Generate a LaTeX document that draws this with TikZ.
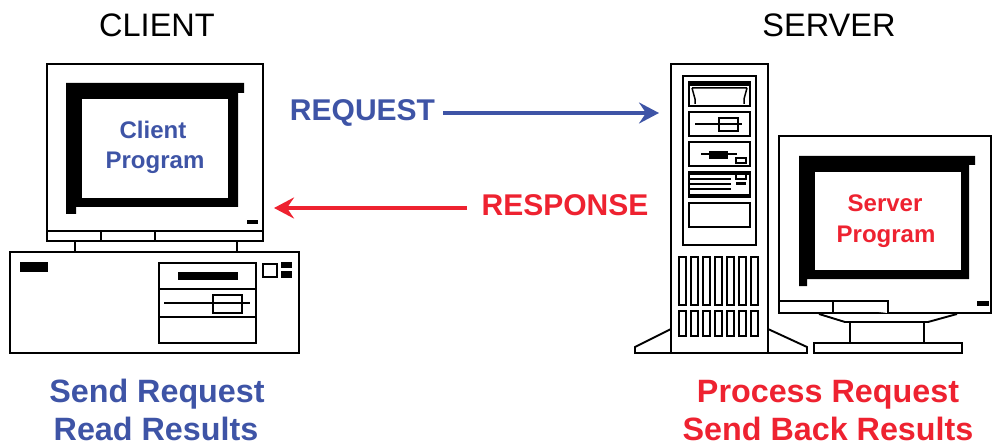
\documentclass[tikz,border=0pt]{standalone}
\usepackage{fontspec}
\setmainfont{Liberation Sans}
\usetikzlibrary{arrows.meta}
\definecolor{reqblue}{RGB}{62,84,166}
\definecolor{resred}{RGB}{238,34,48}
\tikzset{
  x=1pt,y=-1pt,
  part/.style={draw=black,line width=1.9pt,fill=white,line join=miter},
  thin part/.style={draw=black,line width=1.5pt},
  blk/.style={fill=black,draw=none},
  label/.style={font=\fontsize{#1}{#1}\selectfont\bfseries,inner sep=0pt,anchor=base},
  title/.style={font=\fontsize{32.5}{32.5}\selectfont,inner sep=0pt,anchor=base},
  flow/.style={line width=3.4pt,-{Stealth[length=20pt,width=21pt,inset=7pt]}}
}
\newcommand{\rbox}[4]{\draw[part] (#1,#2) rectangle (#3,#4);}
\newcommand{\bbox}[4]{\fill[blk] (#1,#2) rectangle (#3,#4);}
\begin{document}
\begin{tikzpicture}
\useasboundingbox (0,0) rectangle (992,446);
% ---------- client
\rbox{47}{64}{263}{241}
\draw[part] (47,231) -- (263,231) (101,231) -- (101,241) (155,231) -- (155,241);
\draw[part] (75,241) -- (75,252) (237,241) -- (237,252);
\fill[blk] (66,83) -- (244,83) -- (244,93) -- (238,93) -- (238,207) -- (76,207) -- (76,214) -- (66,214) -- cycle;
\fill[white] (82,99) rectangle (228,198);
\bbox{247}{220}{258}{224}
\rbox{10}{252}{299}{353}
\bbox{20}{262}{48}{272}
\rbox{159}{263}{256}{343}
\draw[part] (159,289) -- (256,289) (159,317) -- (256,317);
\bbox{178}{272}{238}{280}
\draw[part] (164,303) -- (250,303);
\draw[part,fill=none] (213,295) rectangle (242,313);
\rbox{263}{264}{277}{277}
\bbox{281}{262}{292}{268}
\bbox{281}{271}{292}{278}
% ---------- server tower
\draw[part] (671,329) -- (635,347) -- (635,353) -- (671,353);
\draw[part] (768,329) -- (807,347) -- (807,353) -- (768,353);
\rbox{671}{64}{768}{353}
\rbox{683}{76}{756}{245}
\rbox{689}{82}{750}{106}
\bbox{689}{82}{750}{86}
\draw[thin part] (692,88) -- (695,99) -- (695,104) (747,88) -- (744,99) -- (744,104) (692,88) -- (747,88);
\rbox{689}{112}{750}{136}
\draw[part] (695,124) -- (742,124);
\draw[part,fill=none] (719,118) rectangle (738,131);
\rbox{689}{142}{750}{166}
\draw[part] (701,154) -- (737,154);
\bbox{709}{151}{728}{159}
\draw[thin part] (736,158) rectangle (746,163);
\rbox{689}{172}{750}{197}
\bbox{689}{172}{750}{175}
\bbox{689}{194}{750}{197}
\draw[thin part] (690,179) -- (731,179) (690,184) -- (731,184) (690,189) -- (731,189);
\draw[thin part] (736,174) rectangle (746,179);
\bbox{736}{182}{746}{185}
\rbox{689}{203}{750}{227}
\foreach \vx in {679,691,703,715,727,739,751}{
  \draw[part] (\vx,257) rectangle (\vx+7,305);
  \draw[part] (\vx,311) rectangle (\vx+7,336);
}
% ---------- server monitor
\draw[part] (991,313) -- (779,313) -- (779,136) -- (991,136) -- cycle;
\draw[part] (779,301) -- (888,301) -- (888,313) (833,301) -- (833,313);
\fill[blk] (799,156) -- (975,156) -- (975,165) -- (969,165) -- (969,279) -- (807,279) -- (807,286) -- (799,286) -- cycle;
\fill[white] (815,172) rectangle (961,270);
\bbox{977}{301}{989}{306}
\draw[part,fill=none] (819,314) -- (845,322) -- (928,322) -- (957,314);
\draw[part] (850,322) -- (850,343) (924,322) -- (924,343);
\rbox{814}{343}{962}{353}
% ---------- texts
\node[title] (client) at (157,37) {CLIENT};
\node[title] (server) at (829,37) {SERVER};
\node[label=24,text=reqblue] (cprogA) at (153,139) {Client};
\node[label=24,text=reqblue] (cprogB) at (155,169) {Program};
\node[label=24,text=resred] (sprogA) at (885,212) {Server};
\node[label=24,text=resred] (sprogB) at (886,242) {Program};
\node[label=30,text=reqblue] (request) at (362.5,121) {REQUEST};
\node[label=30,text=resred] (response) at (565,216) {RESPONSE};
\node[label=32.3,text=reqblue] (send) at (157,402) {Send Request};
\node[label=32.3,text=reqblue] (read) at (156,440) {Read Results};
\node[label=32.3,text=resred] (proc) at (828,402) {Process Request};
\node[label=32.3,text=resred] (back) at (828,440) {Send Back Results};
% ---------- connectors
\coordinate (reqend) at (659,113);
\coordinate (resend) at (274,208);
\coordinate (reqstart) at (443,113);
\coordinate (resstart) at (467,208);
\draw[flow,reqblue] (reqstart) -- (reqend);
\draw[flow,resred] (resstart) -- (resend);
\end{tikzpicture}
\end{document}
